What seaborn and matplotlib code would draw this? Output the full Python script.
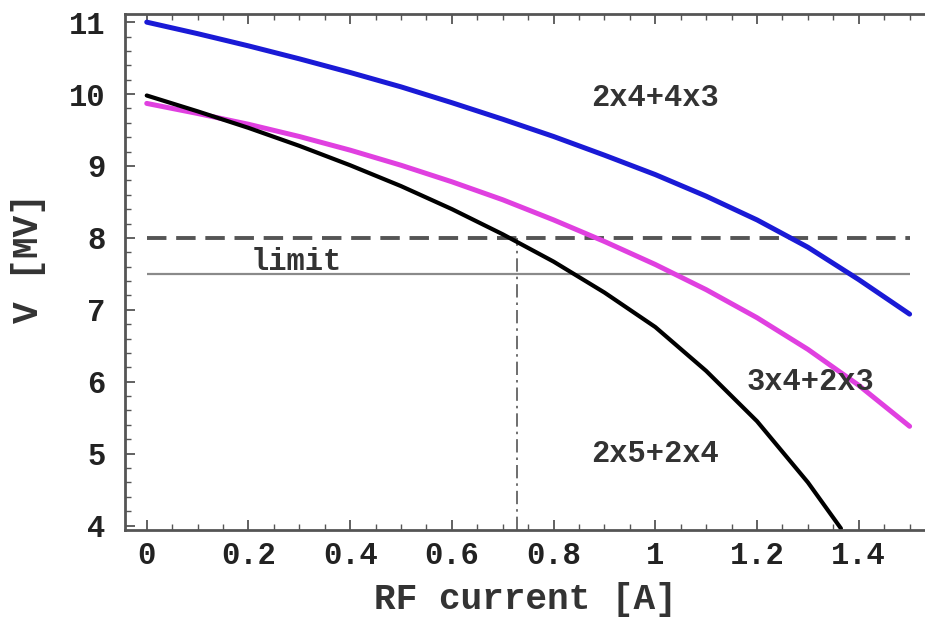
import numpy as np
import pandas as pd
import matplotlib
matplotlib.use("Agg")
import matplotlib.pyplot as plt
from matplotlib.ticker import AutoMinorLocator
import seaborn as sns

# RF current [A] grid and cavity voltage [MV]
current = [0.0, 0.1, 0.2, 0.3, 0.4, 0.5, 0.6, 0.7, 0.8, 0.9, 1.0, 1.1, 1.2, 1.3, 1.4, 1.5]
v_2x4_4x3 = [11.0, 10.84, 10.67, 10.49, 10.30, 10.10, 9.88, 9.65, 9.41, 9.15, 8.88, 8.58, 8.25, 7.87, 7.42, 6.94]
v_3x4_2x3 = [9.87, 9.73, 9.58, 9.41, 9.22, 9.01, 8.78, 8.53, 8.25, 7.95, 7.63, 7.28, 6.89, 6.45, 5.95, 5.38]
current_black = [0.0, 0.1, 0.2, 0.3, 0.4, 0.5, 0.6, 0.7, 0.8, 0.9, 1.0, 1.1, 1.2, 1.3, 1.365]
v_2x5_2x4 = [9.98, 9.76, 9.53, 9.28, 9.01, 8.72, 8.40, 8.05, 7.67, 7.24, 6.76, 6.15, 5.45, 4.60, 3.96]

design_v = 8.0
limit_v = 7.5
op_current = 0.728

x_ticks = [0, 0.2, 0.4, 0.6, 0.8, 1, 1.2, 1.4]
x_ticklabels = ["0", "0.2", "0.4", "0.6", "0.8", "1", "1.2", "1.4"]
y_ticks = [4, 5, 6, 7, 8, 9, 10, 11]

sns.set_theme(style="white")
plt.rcParams["font.family"] = ["Liberation Mono", "DejaVu Sans Mono"]
plt.rcParams["font.weight"] = "bold"

fig = plt.figure(figsize=(9.25, 6.19), dpi=100)
ax = fig.add_axes([0.135, 0.144, 0.872, 0.833])

df1 = pd.DataFrame({"I": current, "V": v_2x4_4x3})
df2 = pd.DataFrame({"I": current, "V": v_3x4_2x3})
df3 = pd.DataFrame({"I": current_black, "V": v_2x5_2x4})

ax.hlines(design_v, 0, 1.5, colors="#555555", linestyles=(0, (5, 2.5)), linewidth=2.8)
ax.hlines(limit_v, 0, 1.5, colors="#8a8a8a", linewidth=1.6)
ax.vlines(op_current, 3.94, design_v, colors="#555555", linestyles=(0, (8, 3, 1.5, 3)), linewidth=1.2)

sns.lineplot(data=df1, x="I", y="V", color="#1a1ad6", linewidth=3.6, ax=ax)
sns.lineplot(data=df2, x="I", y="V", color="#e040e0", linewidth=3.6, ax=ax)
sns.lineplot(data=df3, x="I", y="V", color="black", linewidth=3.0, ax=ax)

txt = dict(fontsize=22, color="#333333", ha="center", va="center", fontweight="bold")
ax.text(1.0, 9.95, "2x4+4x3", **txt)
ax.text(1.305, 6.0, "3x4+2x3", **txt)
ax.text(1.0, 5.0, "2x5+2x4", **txt)
ax.text(0.295, 7.66, "limit", **txt)

ax.set_xlim(-0.043, 1.543)
ax.set_ylim(3.94, 11.11)
ax.set_xticks(x_ticks)
ax.set_xticklabels(x_ticklabels)
ax.set_yticks(y_ticks)
ax.xaxis.set_minor_locator(AutoMinorLocator(4))
ax.yaxis.set_minor_locator(AutoMinorLocator(5))
ax.tick_params(which="both", direction="in", top=True, left=True, bottom=True, colors="#555555",
               labelcolor="#222222")
ax.tick_params(which="major", length=7, width=1.3, labelsize=22)
ax.tick_params(which="minor", length=4, width=1.0)
ax.tick_params(axis="y", which="major", pad=14)
ax.tick_params(axis="x", which="major", pad=8)
for s in ["left", "top", "bottom"]:
    ax.spines[s].set_color("#555555")
    ax.spines[s].set_linewidth(2.0)
ax.spines["right"].set_visible(False)

ax.set_xlabel("RF current [A]", fontsize=26, fontweight="bold", color="#333333", va="center")
ax.set_ylabel("V [MV]", fontsize=26, fontweight="bold", color="#333333", va="center")
ax.xaxis.set_label_coords(0.496, -0.136)
ax.yaxis.set_label_coords(-0.120, 0.527)

fig.savefig("out.png", dpi=100)
